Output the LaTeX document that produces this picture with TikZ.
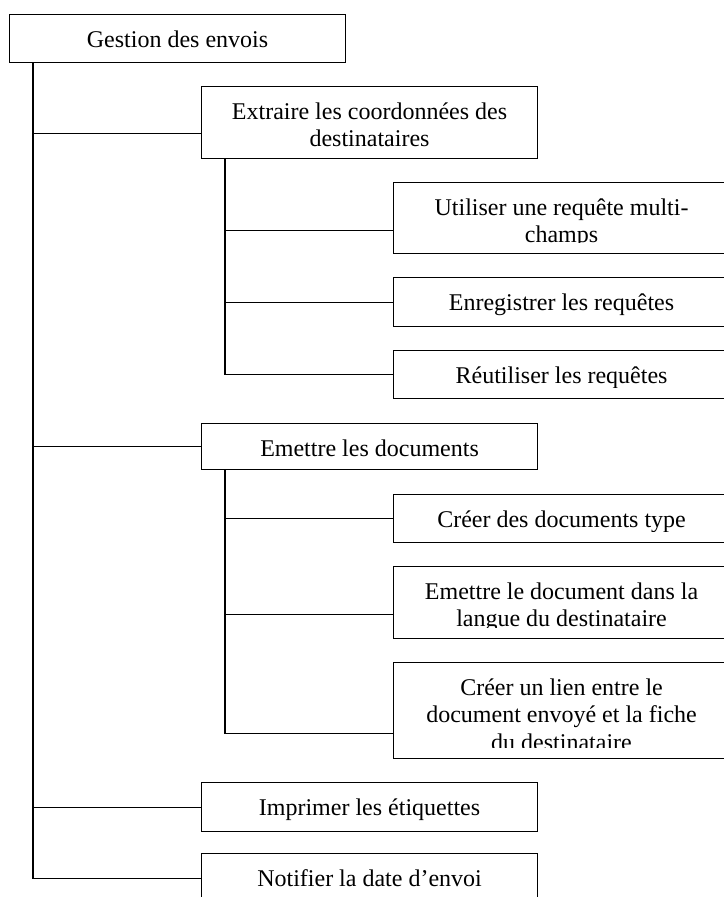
\documentclass[tikz,border=0pt]{standalone}
\usepackage{fontspec}
\setmainfont{Liberation Serif}
\begin{document}
\begin{tikzpicture}[x=1pt,y=-1pt,
  orgbox/.style={draw=black, line width=1.1pt, rectangle, anchor=north west,
    minimum width=336pt, inner sep=0pt},
  orglabel/.style={anchor=north, inner sep=0pt, align=center,
    font=\fontsize{24}{27.5}\selectfont},
  link/.style={draw=black, line width=1.1pt}]
\useasboundingbox (0,0) rectangle (723,897);

% \orgitem{name}{left}{top}{height}{text}: a framed box whose text starts
% at the top and is cut off near the lower edge
\newcommand{\orgitem}[5]{%
  \node[orgbox, minimum height=#4pt] (#1) at (#2,#3) {};
  \begin{scope}
    \clip ([yshift=2pt]#1.north west) rectangle ([yshift=12pt]#1.south east);
    \node[orglabel] at ([yshift=-13pt]#1.north) {\rule{0pt}{20pt}#5};
  \end{scope}}

% top level
\orgitem{root}{9}{14}{48}{Gestion des envois}

% first level
\orgitem{ext}{201}{86}{72}{Extraire les coordonnées des\\destinataires}
\orgitem{emt}{201}{423}{46}{Emettre les documents}
\orgitem{imp}{201}{782}{49}{Imprimer les étiquettes}
\orgitem{ntf}{201}{853}{49}{Notifier la date d’envoi}

% second level under "Extraire"
\orgitem{rq1}{393}{182}{71}{Utiliser une requête multi-\\champs}
\orgitem{rq2}{393}{277}{49}{Enregistrer les requêtes}
\orgitem{rq3}{393}{350}{48}{Réutiliser les requêtes}

% second level under "Emettre"
\orgitem{dc1}{393}{494}{48}{Créer des documents type}
\orgitem{dc2}{393}{566}{72}{Emettre le document dans la\\langue du destinataire}
\orgitem{dc3}{393}{662}{96}{Créer un lien entre le\\document envoyé et la fiche\\du destinataire}

% trunk coordinates below each parent
\coordinate (t0) at ([xshift=24pt]root.south west);
\coordinate (t1) at ([xshift=24pt]ext.south west);
\coordinate (t2) at ([xshift=24pt]emt.south west);

% connectors
\draw[link] ([yshift=-11pt]ext.west) -| (t0);
\draw[link] (emt.west) -| (t0);
\draw[link] (imp.west) -| (t0);
\draw[link] (ntf.west) -| (t0);

\draw[link] ([yshift=-12.5pt]rq1.west) -| (t1);
\draw[link] (rq2.west) -| (t1);
\draw[link] (rq3.west) -| (t1);

\draw[link] (dc1.west) -| (t2);
\draw[link] ([yshift=-12pt]dc2.west) -| (t2);
\draw[link] ([yshift=-23pt]dc3.west) -| (t2);
\end{tikzpicture}
\end{document}
